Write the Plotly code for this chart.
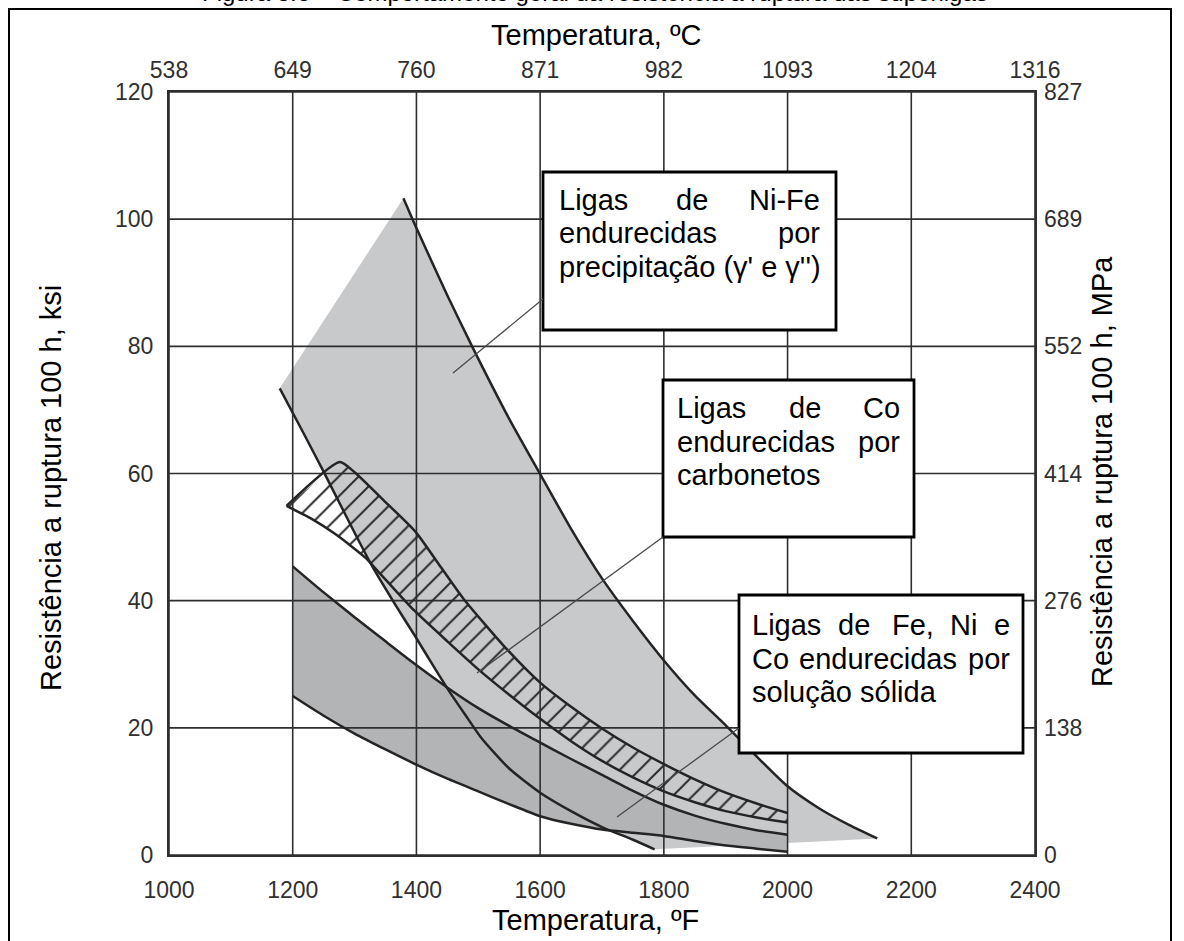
import plotly.graph_objects as go

# ---------------- axis ticks ----------------
F_TICKS = [1000, 1200, 1400, 1600, 1800, 2000, 2200, 2400]
C_LABELS = ["538", "649", "760", "871", "982", "1093", "1204", "1316"]
KSI_TICKS = [0, 20, 40, 60, 80, 100, 120]
MPA_LABELS = ["0", "138", "276", "414", "552", "689", "827"]

# ---------------- Ni-Fe precipitation hardened band (light grey) ----------------
# upper boundary (curve A), starting at the top vertex
NIFE_TOP_X = [1379, 1400, 1450, 1490, 1550, 1603, 1650, 1700, 1750, 1800, 1850, 1900, 1950, 2000, 2050, 2100, 2145]
NIFE_TOP_Y = [103.3, 98.6, 88.0, 80.0, 68.6, 59.4, 51.3, 43.5, 36.8, 30.6, 25.1, 20.4, 15.5, 10.8, 7.4, 4.7, 2.6]
# lower boundary (curve B), starting at the left vertex
NIFE_LOW_X = [1179, 1215, 1252, 1290, 1328, 1365, 1398, 1430, 1452, 1480, 1505, 1550, 1600, 1650, 1700, 1750, 1785]
NIFE_LOW_Y = [73.4, 66.8, 59.9, 52.6, 45.5, 39.5, 34.4, 29.3, 25.9, 21.9, 18.4, 13.6, 9.8, 6.9, 4.4, 2.4, 0.9]
# tail of the band beyond the lower curve
NIFE_TAIL_X = [2000]
NIFE_TAIL_Y = [1.9]

# ---------------- Co carbide strengthened band (hatched) ----------------
CO_TOP_X = [1190, 1276, 1300, 1350, 1398, 1440, 1476, 1543, 1600, 1650, 1700, 1750, 1800, 1850, 1900, 1950, 2000]
CO_TOP_Y = [54.9, 61.8, 60.2, 55.5, 50.9, 45.2, 40.3, 32.7, 27.1, 23.3, 19.9, 16.9, 14.3, 11.9, 9.8, 8.1, 6.6]
CO_LOW_X = [1190, 1230, 1270, 1317, 1339, 1370, 1398, 1450, 1500, 1550, 1592, 1650, 1700, 1750, 1800, 1850, 1900, 1950, 2000]
CO_LOW_Y = [54.9, 52.9, 50.4, 46.8, 44.5, 41.2, 38.3, 33.6, 29.2, 25.2, 22.0, 17.9, 14.8, 12.2, 10.0, 8.3, 6.9, 5.9, 5.1]

# ---------------- Fe, Ni, Co solid solution band (dark grey) ----------------
SS_TOP_X = [1200, 1250, 1300, 1350, 1398, 1452, 1500, 1550, 1592, 1650, 1700, 1750, 1800, 1850, 1900, 1950, 2000]
SS_TOP_Y = [45.4, 41.3, 37.4, 33.6, 30.0, 26.2, 23.1, 20.3, 18.1, 15.1, 12.6, 10.1, 7.9, 6.2, 4.9, 3.9, 3.2]
SS_LOW_X = [1200, 1250, 1300, 1350, 1398, 1450, 1500, 1550, 1600, 1650, 1700, 1750, 1800, 1850, 1900, 1950, 2000]
SS_LOW_Y = [25.0, 21.9, 19.1, 16.6, 14.3, 12.0, 10.0, 8.0, 6.1, 4.9, 4.0, 3.5, 3.0, 2.2, 1.5, 1.0, 0.5]

LIGHT = "#c8c9cb"
DARK = "#b3b4b6"
INK = "#242424"
GRID = "#2e2e2e"
FONT = "Liberation Sans, Arial, sans-serif"

fig = go.Figure()

# light grey band
fig.add_trace(go.Scatter(
    x=NIFE_TOP_X + NIFE_TAIL_X + NIFE_LOW_X[::-1],
    y=NIFE_TOP_Y + NIFE_TAIL_Y + NIFE_LOW_Y[::-1],
    fill="toself", fillcolor=LIGHT, mode="lines", line=dict(width=0),
    hoverinfo="skip", showlegend=False))

# dark grey band
fig.add_trace(go.Scatter(
    x=SS_TOP_X + SS_LOW_X[::-1], y=SS_TOP_Y + SS_LOW_Y[::-1],
    fill="toself", fillcolor=DARK, mode="lines", line=dict(width=0),
    hoverinfo="skip", showlegend=False))

# grid lines (drawn above the fills, as in the reference)
gx, gy = [], []
for f in F_TICKS:
    gx += [f, f, None]
    gy += [KSI_TICKS[0], KSI_TICKS[-1], None]
for k in KSI_TICKS:
    gx += [F_TICKS[0], F_TICKS[-1], None]
    gy += [k, k, None]
fig.add_trace(go.Scatter(x=gx, y=gy, mode="lines", line=dict(color=GRID, width=1.6),
                         hoverinfo="skip", showlegend=False))

# hatched Co band
fig.add_trace(go.Scatter(
    x=CO_TOP_X + CO_LOW_X[::-1], y=CO_TOP_Y + CO_LOW_Y[::-1],
    fill="toself", fillcolor="rgba(0,0,0,0)", mode="lines", line=dict(width=0),
    fillpattern=dict(shape="/", fgcolor="#2a2a2a", bgcolor="rgba(0,0,0,0)",
                     size=14, solidity=0.14, fillmode="replace"),
    hoverinfo="skip", showlegend=False))

# boundary curves
for xs, ys in [(NIFE_TOP_X, NIFE_TOP_Y), (NIFE_LOW_X, NIFE_LOW_Y),
               (SS_TOP_X, SS_TOP_Y), (SS_LOW_X, SS_LOW_Y),
               (CO_TOP_X, CO_TOP_Y), (CO_LOW_X, CO_LOW_Y)]:
    fig.add_trace(go.Scatter(x=xs, y=ys, mode="lines",
                             line=dict(color=INK, width=2.5, shape="spline", smoothing=0.6),
                             hoverinfo="skip", showlegend=False))

# invisible traces carrying the secondary (top / right) axes
fig.add_trace(go.Scatter(x=[F_TICKS[0], F_TICKS[-1]], y=[KSI_TICKS[0], KSI_TICKS[-1]],
                         xaxis="x2", yaxis="y", mode="markers", marker=dict(opacity=0),
                         hoverinfo="skip", showlegend=False))
fig.add_trace(go.Scatter(x=[F_TICKS[0], F_TICKS[-1]], y=[KSI_TICKS[0], KSI_TICKS[-1]],
                         xaxis="x", yaxis="y2", mode="markers", marker=dict(opacity=0),
                         hoverinfo="skip", showlegend=False))

# ---------------- page geometry helpers (pixel -> paper) ----------------
L, R, T, B = 169, 149, 92, 86
W, H = 1184, 941
PW, PH = W - L - R, H - T - B


def px(xp):
    return (xp - L) / PW


def py(yp):
    return (H - B - yp) / PH


shapes = []
annotations = []

# label boxes
BOXES = [(543, 172, 836, 330), (663, 380, 914, 537), (739, 595, 1023, 753)]
for x0, y0, x1, y1 in BOXES:
    shapes.append(dict(type="rect", xref="paper", yref="paper",
                       x0=px(x0), x1=px(x1), y0=py(y1), y1=py(y0),
                       fillcolor="white", line=dict(color="black", width=2.8), layer="above"))

# leader lines
LEADERS = [((543, 299), (453, 373)), ((663, 537), (477, 673)), ((739, 728), (617, 817))]
for (xa, ya), (xb, yb) in LEADERS:
    shapes.append(dict(type="line", xref="paper", yref="paper",
                       x0=px(xa), y0=py(ya), x1=px(xb), y1=py(yb),
                       line=dict(color="#4a4a4a", width=1.3), layer="above"))

# outer frame
shapes.append(dict(type="rect", xref="paper", yref="paper",
                   x0=px(9), x1=px(1171), y0=py(960), y1=py(9),
                   fillcolor="rgba(0,0,0,0)", line=dict(color="black", width=2), layer="above"))

# justified box text, word by word
BOX_WORDS = [
    (199.5, [("Ligas", 557, "left"), ("de", 692, "center"), ("Ni-Fe", 822, "right")]),
    (233, [("endurecidas", 557, "left"), ("por", 822, "right")]),
    (266.5, [("precipitação (γ' e γ'')", 557, "left")]),
    (408, [("Ligas", 675, "left"), ("de", 805, "center"), ("Co", 902, "right")]),
    (442, [("endurecidas", 675, "left"), ("por", 902, "right")]),
    (475, [("carbonetos", 675, "left")]),
    (625, [("Ligas", 750, "left"), ("de", 854, "center"), ("Fe,", 890, "left"),
           ("Ni", 963, "center"), ("e", 1012, "right")]),
    (659, [("Co", 750, "left"), ("endurecidas", 878, "center"), ("por", 1012, "right")]),
    (692, [("solução sólida", 750, "left")]),
]
for yline, words in BOX_WORDS:
    for txt, xw, anchor in words:
        annotations.append(dict(text=txt, xref="paper", yref="paper", x=px(xw), y=py(yline),
                                xanchor=anchor, yanchor="middle", showarrow=False,
                                font=dict(family=FONT, size=29, color="black")))

# axis titles
annotations += [
    dict(text="Temperatura, ºC", xref="paper", yref="paper", x=px(596), y=py(35),
         xanchor="center", yanchor="middle", showarrow=False,
         font=dict(family=FONT, size=29, color="black")),
    dict(text="Temperatura, ºF", xref="paper", yref="paper", x=px(595), y=py(920),
         xanchor="center", yanchor="middle", showarrow=False,
         font=dict(family=FONT, size=29, color="black")),
    dict(text="Resistência a ruptura 100 h, ksi", xref="paper", yref="paper", x=px(51), y=py(488),
         xanchor="center", yanchor="middle", textangle=-90, showarrow=False,
         font=dict(family=FONT, size=29, color="black")),
    dict(text="Resistência a ruptura 100 h, MPa", xref="paper", yref="paper", x=px(1102), y=py(472),
         xanchor="center", yanchor="middle", textangle=-90, showarrow=False,
         font=dict(family=FONT, size=29, color="black")),
    dict(text="Figura 3.6 – Comportamento geral da resistência a ruptura das superligas",
         xref="paper", yref="paper", x=px(595), y=py(8), xanchor="center", yanchor="bottom",
         showarrow=False, font=dict(family=FONT, size=24, color="black")),
]

TICKFONT = dict(family=FONT, size=23, color="#303030")
common = dict(showgrid=False, zeroline=False, ticks="", tickfont=TICKFONT, tickmode="array")

fig.update_layout(
    width=W, height=H,
    margin=dict(l=L, r=R, t=T, b=B, pad=0),
    paper_bgcolor="white", plot_bgcolor="white",
    showlegend=False,
    xaxis=dict(range=[F_TICKS[0], F_TICKS[-1]], tickvals=F_TICKS, ticktext=[str(v) for v in F_TICKS],
               showline=True, mirror=True, linecolor=GRID, linewidth=2, ticklabelstandoff=13, **common),
    yaxis=dict(range=[KSI_TICKS[0], KSI_TICKS[-1]], tickvals=KSI_TICKS, ticktext=[str(v) for v in KSI_TICKS],
               showline=True, mirror=True, linecolor=GRID, linewidth=2, ticklabelstandoff=9, **common),
    xaxis2=dict(overlaying="x", side="top", anchor="y", range=[F_TICKS[0], F_TICKS[-1]],
                tickvals=F_TICKS, ticktext=C_LABELS, showline=False, ticklabelstandoff=8, **common),
    yaxis2=dict(overlaying="y", side="right", anchor="x", range=[KSI_TICKS[0], KSI_TICKS[-1]],
                tickvals=KSI_TICKS, ticktext=MPA_LABELS, showline=False, ticklabelstandoff=8, **common),
    shapes=shapes,
    annotations=annotations,
)

fig.write_html("out.html")
